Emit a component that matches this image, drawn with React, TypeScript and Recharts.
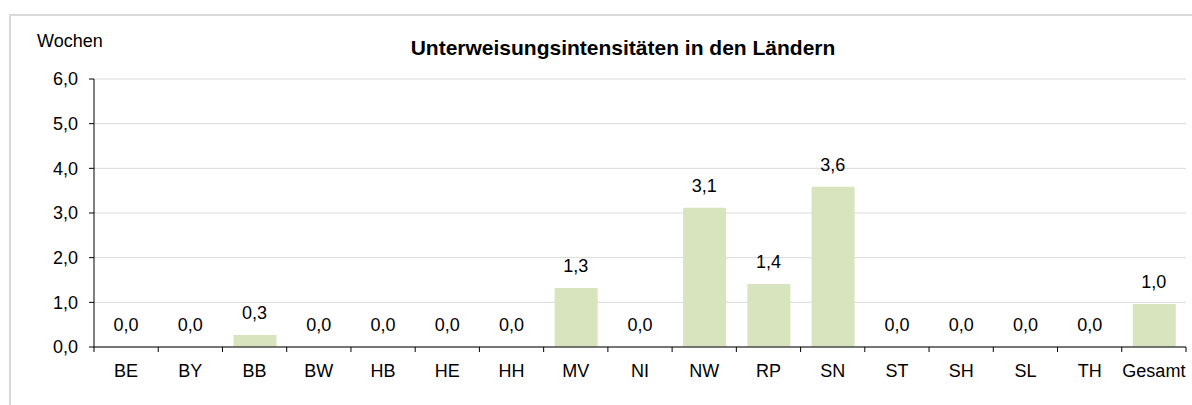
import { ComposedChart, Bar, Line, XAxis, YAxis, CartesianGrid, LabelList } from "recharts";

const laender = ["BE", "BY", "BB", "BW", "HB", "HE", "HH", "MV", "NI", "NW", "RP", "SN", "ST", "SH", "SL", "TH", "Gesamt"];
const wochen = [0, 0, 0.27, 0, 0, 0, 0, 1.32, 0, 3.12, 1.41, 3.59, 0, 0, 0, 0, 0.96];
const yTicks = [0, 1, 2, 3, 4, 5, 6];

const W = 1192;
const H = 405;
const PLOT_LEFT = 94;
const PLOT_RIGHT = 1186;
const TICK_SIZE = 5;
const TICK_MARGIN = 12;
const FONT = "'Liberation Sans', Arial, sans-serif";

const fmt = (v: number) => v.toFixed(1).replace(".", ",");

/* eslint-disable @typescript-eslint/no-explicit-any */
function CategoryTick(props: any) {
  const { x, y, payload, index } = props;
  const band = (PLOT_RIGHT - PLOT_LEFT) / laender.length;
  const axisY = y - TICK_SIZE - TICK_MARGIN;
  return (
    <g>
      <line x1={x - band / 2} x2={x - band / 2} y1={axisY} y2={axisY + TICK_SIZE} stroke="#000" />
      {index === laender.length - 1 && (
        <line x1={x + band / 2} x2={x + band / 2} y1={axisY} y2={axisY + TICK_SIZE} stroke="#000" />
      )}
      <text x={x} y={y} dy="0.71em" textAnchor="middle" fontSize={18} fill="#000" fontFamily={FONT}>
        {payload.value}
      </text>
    </g>
  );
}
/* eslint-enable @typescript-eslint/no-explicit-any */

export default function App() {
  const data = laender.map((land, i) => ({ land, wert: wochen[i] }));

  return (
    <div style={{ position: "relative", width: W, height: H, background: "#fff", fontFamily: FONT }}>
      <style>{"body{margin:0}"}</style>
      <div
        style={{
          position: "absolute",
          left: 9,
          top: 14,
          width: W,
          height: H,
          borderLeft: "2px solid #d9d9d9",
          borderTop: "2px solid #d9d9d9",
        }}
      />
      <ComposedChart
        width={W}
        height={H}
        data={data}
        margin={{ top: 79, right: W - PLOT_RIGHT, left: 0, bottom: 28 }}
        style={{ position: "absolute", left: 0, top: 0 }}
      >
        <CartesianGrid vertical={false} stroke="#d9d9d9" />
        <XAxis
          dataKey="land"
          height={30}
          interval={0}
          axisLine={{ stroke: "#000" }}
          tickLine={false}
          tickSize={TICK_SIZE}
          tickMargin={TICK_MARGIN}
          tick={<CategoryTick />}
        />
        <YAxis
          width={PLOT_LEFT}
          domain={[0, 6]}
          ticks={yTicks}
          interval={0}
          axisLine={{ stroke: "#000" }}
          tickLine={{ stroke: "#000" }}
          tickSize={TICK_SIZE}
          tickMargin={11}
          tickFormatter={fmt}
          tick={{ fontSize: 18, fill: "#000", fontFamily: FONT }}
        />
        <Bar dataKey="wert" fill="#d7e4bd" barSize={43} isAnimationActive={false} />
        <Line
          dataKey="wert"
          stroke="none"
          dot={false}
          activeDot={false}
          legendType="none"
          isAnimationActive={false}
        >
          <LabelList
            dataKey="wert"
            position="top"
            offset={16}
            formatter={(v: any) => fmt(Number(v))}
            style={{ fontSize: 18, fill: "#000", fontFamily: FONT }}
          />
        </Line>
      </ComposedChart>
      <svg width={W} height={H} style={{ position: "absolute", left: 0, top: 0, pointerEvents: "none" }}>
        <text x={37} y={47} fontSize={18} fill="#000" fontFamily={FONT}>
          Wochen
        </text>
        <text x={623} y={55} textAnchor="middle" fontSize={21} fontWeight="bold" fill="#000" fontFamily={FONT}>
          Unterweisungsintensitäten in den Ländern
        </text>
      </svg>
    </div>
  );
}
